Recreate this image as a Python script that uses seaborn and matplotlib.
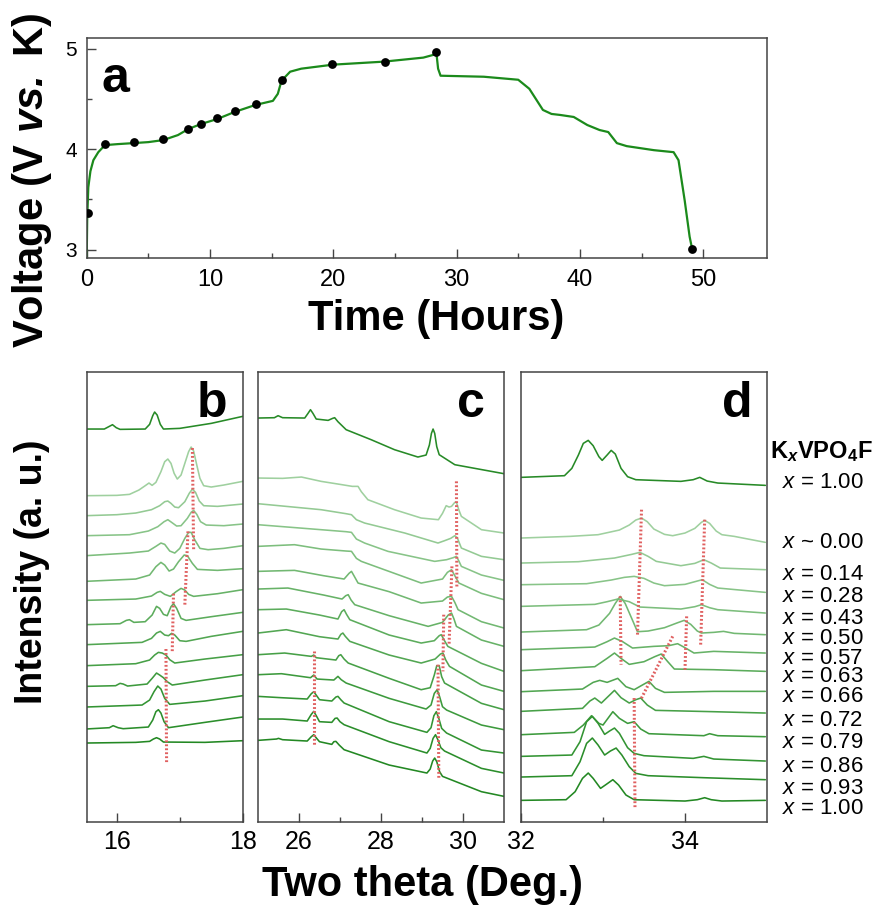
import matplotlib
matplotlib.use("Agg")
import matplotlib.pyplot as plt
import seaborn as sns
import pandas as pd

sns.set_style("ticks")
plt.rcParams["font.family"] = ["Liberation Sans", "DejaVu Sans"]
plt.rcParams["mathtext.fontset"] = "custom"
plt.rcParams["mathtext.rm"] = "Liberation Sans"
plt.rcParams["mathtext.it"] = "Liberation Sans:italic"
plt.rcParams["mathtext.bf"] = "Liberation Sans:bold"
plt.rcParams["mathtext.bfit"] = "Liberation Sans:bold:italic"
for k in ["text.color", "axes.labelcolor", "xtick.color", "ytick.color"]:
    plt.rcParams[k] = "black"

# ---------------- data: panel a (charge / discharge curve) ----------------
time_h = [0.0, 0.04, 0.08, 0.13, 0.3, 0.54, 0.94, 1.48, 2.5, 3.78, 5.0, 6.2, 7.4, 8.24, 9.27,
          10.6, 12.0, 13.7, 15.1, 15.5, 15.8, 16.5, 17.4, 19.97, 24.1, 27.3, 28.2, 28.35,
          28.5, 28.7, 32.2, 35.0, 35.9, 37.0, 37.7, 38.4, 39.5, 40.6, 41.6, 42.3, 43.0,
          43.8, 46.0, 47.6, 48.0, 48.5, 48.9, 49.1]
voltage = [2.92, 3.30, 3.45, 3.62, 3.78, 3.89, 3.97, 4.04, 4.05, 4.06, 4.07, 4.09, 4.14,
           4.20, 4.25, 4.30, 4.37, 4.44, 4.48, 4.55, 4.68, 4.77, 4.80, 4.84, 4.87, 4.91,
           4.94, 4.97, 4.80, 4.73, 4.72, 4.69, 4.60, 4.39, 4.35, 4.34, 4.32, 4.24, 4.19,
           4.17, 4.06, 4.03, 3.99, 3.97, 3.89, 3.49, 3.13, 3.01]
mark_h = [0.1, 1.5, 3.8, 6.2, 8.2, 9.3, 10.6, 12.0, 13.7, 15.8, 19.9, 24.2, 28.3, 49.1]
mark_v = [3.37, 4.05, 4.07, 4.10, 4.20, 4.25, 4.31, 4.38, 4.45, 4.69, 4.85, 4.87, 4.97, 3.01]

# ---------------- data: XRD traces (two theta, intensity a.u.) ----------------
trace_labels = ["x = 1.00", "x ~ 0.00", "x = 0.14", "x = 0.28", "x = 0.43", "x = 0.50",
                "x = 0.57", "x = 0.63", "x = 0.66", "x = 0.72", "x = 0.79", "x = 0.86",
                "x = 0.93", "x = 1.00"]

b_x = [
    [15.50, 15.80, 15.88, 15.93, 15.99, 16.05, 16.45, 16.52, 16.57, 16.60, 16.64, 16.69, 16.74, 17.0, 17.5, 18.0],
    [15.50, 16.0, 16.20, 16.35, 16.45, 16.51, 16.56, 16.62, 16.70, 16.76, 16.81, 16.86, 16.91, 16.96, 17.02, 17.08, 17.14, 17.18, 17.22, 17.27, 17.32, 17.38, 17.50, 17.7, 18.0],
    [15.50, 16.0, 16.30, 16.55, 16.68, 16.76, 16.81, 16.86, 16.92, 16.98, 17.08, 17.15, 17.20, 17.25, 17.31, 17.38, 17.6, 18.0],
    [15.50, 16.20, 16.50, 16.65, 16.75, 16.81, 16.87, 16.95, 17.02, 17.12, 17.18, 17.22, 17.27, 17.33, 17.42, 17.7, 18.0],
    [15.50, 16.20, 16.50, 16.62, 16.70, 16.76, 16.84, 16.92, 17.0, 17.08, 17.14, 17.18, 17.24, 17.32, 17.45, 17.7, 18.0],
    [15.50, 16.30, 16.52, 16.62, 16.70, 16.76, 16.83, 16.90, 16.98, 17.07, 17.12, 17.20, 17.28, 17.6, 18.0],
    [15.50, 16.30, 16.55, 16.64, 16.69, 16.76, 16.85, 16.94, 17.02, 17.08, 17.14, 17.22, 17.6, 18.0],
    [15.50, 16.05, 16.15, 16.20, 16.27, 16.45, 16.56, 16.63, 16.68, 16.74, 16.80, 16.86, 16.90, 16.95, 17.02, 17.10, 17.5, 18.0],
    [15.50, 16.40, 16.55, 16.63, 16.69, 16.76, 16.82, 16.87, 16.92, 17.0, 17.1, 17.5, 18.0],
    [15.50, 16.30, 16.52, 16.60, 16.66, 16.72, 16.78, 16.84, 16.92, 17.4, 18.0],
    [15.50, 15.98, 16.05, 16.10, 16.17, 16.48, 16.56, 16.63, 16.68, 16.74, 16.80, 16.88, 17.4, 18.0],
    [15.50, 16.40, 16.52, 16.59, 16.65, 16.70, 16.76, 16.84, 17.4, 18.0],
    [15.50, 15.88, 15.94, 16.02, 16.10, 16.50, 16.57, 16.62, 16.66, 16.70, 16.75, 16.82, 17.4, 18.0],
    [15.50, 16.30, 16.52, 16.58, 16.63, 16.68, 16.74, 17.4, 18.0],
]
b_y = [
    [1178, 1178, 1186, 1191, 1182, 1177, 1178, 1192, 1218, 1229, 1220, 1192, 1178, 1180, 1195, 1216],
    [978, 979, 982, 995, 1008, 1016, 1009, 1018, 1050, 1080, 1088, 1075, 1045, 1028, 1040, 1075, 1110, 1124, 1112, 1070, 1030, 1008, 1004, 1010, 1021],
    [918, 921, 926, 936, 948, 960, 962, 955, 944, 942, 960, 985, 998, 988, 962, 948, 946, 953],
    [858, 861, 872, 885, 900, 906, 898, 887, 888, 910, 928, 934, 922, 900, 890, 888, 893],
    [798, 806, 812, 826, 836, 832, 812, 806, 820, 850, 868, 868, 845, 820, 816, 820, 828],
    [721, 728, 740, 765, 778, 770, 752, 758, 780, 800, 798, 775, 757, 754, 759],
    [664, 668, 677, 688, 691, 682, 676, 690, 700, 695, 682, 676, 684, 696],
    [591, 594, 604, 606, 598, 600, 620, 646, 640, 622, 618, 645, 654, 640, 610, 604, 615, 628],
    [531, 538, 550, 566, 571, 560, 558, 565, 560, 543, 541, 556, 571],
    [468, 474, 485, 500, 508, 506, 500, 486, 476, 488, 501],
    [406, 408, 415, 413, 407, 413, 430, 446, 440, 432, 420, 410, 425, 441],
    [344, 350, 365, 390, 407, 398, 370, 352, 362, 378],
    [278, 282, 288, 282, 279, 284, 305, 330, 336, 326, 300, 282, 298, 314],
    [236, 238, 241, 248, 252, 248, 239, 238, 243],
]

c_x = [
    [25.0, 25.40, 25.49, 25.60, 26.14, 26.22, 26.28, 26.34, 26.42, 26.71, 26.82, 26.87, 26.95, 27.15, 27.76, 28.33, 28.90, 29.10, 29.18, 29.23, 29.27, 29.31, 29.36, 29.42, 29.80, 31.0],
    [25.0, 25.6, 26.06, 26.54, 27.0, 27.30, 27.44, 27.52, 27.68, 28.33, 28.98, 29.40, 29.50, 29.59, 29.66, 29.72, 29.80, 29.84, 29.90, 29.96, 30.45, 31.0],
    [25.0, 26.54, 27.15, 27.28, 27.40, 27.60, 28.58, 29.39, 29.55, 29.70, 29.80, 29.86, 29.96, 30.45, 31.0],
    [25.0, 26.54, 27.15, 27.28, 27.40, 27.60, 28.17, 29.31, 29.6, 29.76, 29.84, 29.90, 29.96, 30.45, 31.0],
    [25.0, 25.89, 26.54, 27.15, 27.28, 27.40, 27.52, 28.98, 29.50, 29.62, 29.72, 29.80, 29.90, 30.45, 31.0],
    [25.0, 25.89, 26.6, 27.1, 27.22, 27.28, 27.34, 27.44, 28.2, 28.98, 29.50, 29.62, 29.72, 29.80, 29.88, 30.45, 31.0],
    [25.0, 25.73, 26.6, 27.05, 27.14, 27.20, 27.27, 27.36, 28.2, 29.15, 29.50, 29.64, 29.72, 29.78, 29.84, 30.45, 31.0],
    [25.0, 25.69, 26.5, 26.95, 27.04, 27.10, 27.16, 27.24, 28.2, 28.98, 29.30, 29.42, 29.47, 29.54, 29.63, 30.45, 31.0],
    [25.0, 25.69, 26.5, 26.95, 27.02, 27.07, 27.13, 27.24, 28.2, 28.98, 29.32, 29.45, 29.51, 29.58, 29.67, 30.45, 31.0],
    [25.0, 25.65, 26.30, 26.36, 26.42, 26.9, 26.97, 27.02, 27.10, 27.20, 28.2, 28.98, 29.20, 29.30, 29.36, 29.42, 29.48, 29.55, 30.45, 31.0],
    [25.0, 25.57, 26.28, 26.36, 26.44, 26.85, 26.95, 27.03, 27.15, 28.2, 29.10, 29.22, 29.30, 29.37, 29.43, 29.50, 29.60, 30.45, 31.0],
    [25.0, 25.57, 26.2, 26.30, 26.36, 26.43, 26.5, 26.8, 26.90, 26.95, 27.02, 27.1, 28.2, 29.12, 29.22, 29.29, 29.35, 29.41, 29.48, 29.6, 30.45, 31.0],
    [25.0, 25.6, 26.2, 26.30, 26.36, 26.43, 26.5, 26.8, 26.88, 26.93, 27.0, 27.1, 28.2, 29.12, 29.20, 29.27, 29.33, 29.39, 29.46, 29.55, 30.45, 31.0],
    [25.0, 25.45, 25.5, 25.6, 26.2, 26.30, 26.36, 26.43, 26.5, 26.8, 26.85, 26.9, 26.98, 27.1, 28.2, 29.12, 29.20, 29.26, 29.31, 29.36, 29.43, 29.5, 30.45, 31.0],
]
c_y = [
    [1211, 1212, 1218, 1212, 1211, 1225, 1236, 1225, 1208, 1204, 1210, 1212, 1200, 1176, 1146, 1116, 1094, 1100, 1130, 1165, 1178, 1165, 1125, 1101, 1071, 1044],
    [1031, 1030, 1034, 1021, 1012, 1006, 1006, 990, 966, 936, 911, 906, 925, 948, 944, 946, 958, 958, 935, 916, 876, 866],
    [954, 936, 924, 921, 906, 896, 866, 836, 843, 850, 858, 852, 821, 796, 786],
    [891, 876, 870, 868, 848, 836, 811, 781, 786, 792, 796, 782, 766, 740, 724],
    [826, 831, 818, 812, 811, 790, 781, 716, 728, 748, 756, 738, 716, 685, 666],
    [751, 754, 738, 728, 745, 751, 738, 716, 690, 656, 662, 674, 676, 658, 636, 600, 581],
    [698, 701, 680, 668, 678, 681, 665, 651, 618, 586, 598, 620, 626, 608, 586, 545, 526],
    [636, 638, 620, 608, 630, 636, 622, 606, 560, 536, 543, 558, 561, 545, 526, 475, 451],
    [566, 576, 555, 548, 562, 566, 556, 541, 500, 476, 488, 503, 506, 485, 466, 410, 391],
    [501, 506, 496, 500, 492, 485, 498, 501, 488, 476, 430, 396, 402, 440, 468, 468, 435, 416, 355, 336],
    [441, 444, 432, 440, 428, 425, 436, 426, 416, 370, 338, 350, 385, 396, 375, 345, 335, 290, 276],
    [376, 372, 368, 384, 390, 378, 366, 362, 374, 376, 366, 356, 300, 268, 282, 318, 330, 310, 280, 266, 215, 206],
    [308, 308, 302, 322, 331, 316, 300, 298, 310, 311, 300, 291, 240, 206, 220, 250, 261, 245, 222, 212, 160, 146],
    [244, 248, 250, 246, 242, 255, 261, 250, 240, 232, 240, 241, 230, 216, 170, 146, 158, 182, 191, 180, 150, 136, 90, 76],
]

d_x = [
    [32.0, 32.53, 32.62, 32.70, 32.76, 32.82, 32.88, 32.95, 32.99, 33.05, 33.10, 33.15, 33.22, 33.30, 33.40, 33.95, 34.10, 34.18, 34.27, 34.40, 34.98],
    [32.0, 32.6, 32.94, 33.20, 33.32, 33.40, 33.47, 33.54, 33.62, 33.75, 33.85, 34.0, 34.12, 34.20, 34.24, 34.30, 34.38, 34.45, 34.60, 34.98],
    [32.0, 32.7, 33.14, 33.35, 33.45, 33.55, 33.65, 33.95, 34.12, 34.23, 34.32, 34.43, 34.98],
    [32.0, 32.8, 33.1, 33.26, 33.38, 33.50, 33.62, 33.75, 34.0, 34.21, 34.30, 34.40, 34.98],
    [32.0, 32.9, 33.05, 33.18, 33.32, 33.45, 33.95, 34.12, 34.20, 34.30, 34.40, 34.98],
    [32.0, 32.8, 32.95, 33.08, 33.15, 33.21, 33.27, 33.35, 33.42, 33.55, 33.75, 33.90, 33.99, 34.07, 34.15, 34.20, 34.35, 34.47, 34.60, 34.98],
    [32.0, 32.9, 33.05, 33.14, 33.24, 33.36, 33.62, 33.80, 33.91, 34.0, 34.11, 34.35, 34.98],
    [32.0, 32.9, 33.05, 33.14, 33.22, 33.32, 33.50, 33.63, 33.71, 33.79, 33.87, 34.35, 34.98],
    [32.0, 32.75, 32.88, 32.96, 33.05, 33.18, 33.28, 33.38, 33.48, 33.56, 33.64, 33.75, 34.35, 34.98],
    [32.0, 32.75, 32.84, 32.90, 32.98, 33.06, 33.14, 33.22, 33.32, 33.40, 33.46, 33.54, 33.64, 34.35, 34.98],
    [32.0, 32.65, 32.76, 32.86, 32.95, 33.0, 33.06, 33.12, 33.20, 33.30, 33.38, 33.46, 33.56, 34.23, 34.30, 34.40, 34.98],
    [32.0, 32.62, 32.72, 32.80, 32.87, 32.94, 33.02, 33.08, 33.14, 33.20, 33.30, 33.38, 33.50, 34.10, 34.23, 34.35, 34.98],
    [32.0, 32.62, 32.72, 32.80, 32.87, 32.94, 33.02, 33.09, 33.16, 33.23, 33.32, 33.40, 33.55, 34.23, 34.98],
    [32.0, 32.55, 32.66, 32.75, 32.82, 32.88, 32.97, 33.04, 33.12, 33.19, 33.28, 33.38, 34.0, 34.15, 34.24, 34.32, 34.45, 34.98],
]
d_y = [
    [1033, 1038, 1060, 1100, 1135, 1144, 1128, 1095, 1084, 1100, 1114, 1103, 1060, 1035, 1026, 1021, 1026, 1033, 1022, 1016, 1009],
    [851, 856, 861, 875, 890, 905, 911, 900, 878, 862, 858, 866, 880, 898, 904, 895, 872, 861, 856, 838],
    [776, 780, 791, 802, 808, 796, 781, 768, 775, 786, 776, 761, 756],
    [711, 714, 725, 733, 736, 730, 716, 708, 712, 726, 712, 701, 688],
    [646, 652, 660, 668, 660, 644, 638, 645, 651, 642, 636, 626],
    [569, 576, 590, 625, 655, 676, 655, 610, 570, 572, 582, 596, 604, 592, 572, 566, 568, 571, 565, 561],
    [516, 524, 540, 551, 540, 521, 526, 528, 534, 522, 506, 511, 506],
    [453, 465, 490, 506, 490, 472, 480, 495, 503, 480, 458, 456, 451],
    [390, 398, 418, 424, 418, 430, 405, 396, 410, 421, 400, 388, 391, 391],
    [331, 340, 362, 371, 356, 375, 394, 372, 356, 366, 371, 350, 334, 330, 326],
    [261, 268, 290, 318, 295, 290, 310, 330, 310, 295, 300, 278, 264, 258, 264, 258, 255],
    [196, 200, 240, 300, 316, 295, 262, 272, 281, 265, 222, 205, 198, 190, 196, 188, 182],
    [134, 138, 180, 235, 251, 230, 200, 212, 221, 200, 165, 145, 138, 132, 126],
    [64, 66, 90, 130, 146, 130, 100, 112, 126, 110, 80, 66, 62, 66, 72, 66, 62, 64],
]

# red dotted guide lines (two theta start/end, intensity start/end)
b_guides = [([17.20, 17.22], [1121, 816]), ([17.13, 17.08], [871, 651]),
            ([16.90, 16.88], [684, 511]), ([16.78, 16.79], [518, 176])]
c_guides = [([29.84, 29.85], [1021, 701]), ([29.73, 29.66], [766, 531]),
            ([29.53, 29.51], [621, 451]), ([29.39, 29.41], [471, 131]),
            ([26.36, 26.36], [511, 226])]
d_guides = [([33.47, 33.42], [936, 556]), ([34.24, 34.19], [906, 526]),
            ([33.21, 33.22], [676, 471]), ([34.02, 34.00], [616, 456]),
            ([33.85, 33.46], [556, 366]), ([33.38, 33.39], [371, 38])]

# ---------------- styles / layout ----------------
trace_colors = ["#278a27", "#9fd09f", "#94ca94", "#88c488", "#7dbe7d", "#72b872", "#67b267",
                "#5cac5c", "#52a652", "#47a047", "#3d9a3d", "#339433", "#2b8e2b", "#238823"]
line_green = "#1b8a1b"
guide_red = "#e06060"
spine_col = "#444444"

W, H = 873, 915
fig = plt.figure(figsize=(W / 100, H / 100), dpi=100)


def box(l, t, r, b):
    return [l / W, 1 - b / H, (r - l) / W, (b - t) / H]


ax_a = fig.add_axes(box(86.7, 38.0, 767.3, 258.3))
ax_b = fig.add_axes(box(86.7, 371.7, 242.7, 821.7))
ax_c = fig.add_axes(box(258.0, 371.7, 504.0, 821.7))
ax_d = fig.add_axes(box(521.0, 371.7, 767.0, 821.7))

for ax in (ax_a, ax_b, ax_c, ax_d):
    for s in ax.spines.values():
        s.set_linewidth(1.1)
        s.set_color(spine_col)
    ax.tick_params(which="both", direction="in", color=spine_col, width=1.0,
                   top=False, right=False, labelcolor="black")
    ax.tick_params(which="major", length=6.5)
    ax.tick_params(which="minor", length=3.5)

# ---- panel a ----
df_v = pd.DataFrame({"t": time_h, "v": voltage})
sns.lineplot(data=df_v, x="t", y="v", ax=ax_a, color=line_green, lw=1.6,
             estimator=None, sort=False)
df_m = pd.DataFrame({"t": mark_h, "v": mark_v})
sns.scatterplot(data=df_m, x="t", y="v", ax=ax_a, color="black", s=40,
                edgecolor="black", linewidth=0, zorder=5)
ax_a.set_xlim(0, 55.2)
ax_a.set_ylim(2.915, 5.105)
ax_a.set_xticks([0, 10, 20, 30, 40, 50])
ax_a.set_xticks([5, 15, 25, 35, 45], minor=True)
ax_a.set_yticks([3, 4, 5])
ax_a.set_yticks([3.5, 4.5], minor=True)
ax_a.tick_params(axis="x", labelsize=17, pad=8)
ax_a.tick_params(axis="y", labelsize=15, pad=7)
ax_a.set_xlabel("")
ax_a.set_ylabel("")
ax_a.text(0.042, 0.755, "a", transform=ax_a.transAxes, ha="center", va="baseline",
          fontsize=36, fontweight="bold", color="black")

# ---- panels b, c, d ----
panel_specs = [
    (ax_b, b_x, b_y, b_guides, (15.52, 18.0), [16, 18], [17], "b", 0.80),
    (ax_c, c_x, c_y, c_guides, (25.0, 31.0), [26, 28, 30], [27, 29], "c", 0.866),
    (ax_d, d_x, d_y, d_guides, (32.0, 35.0), [32, 34], [33], "d", 0.878),
]
for ax, xs, ys, guides, xlim, majors, minors, letter, lx in panel_specs:
    for i, (xv, yv) in enumerate(zip(xs, ys)):
        df = pd.DataFrame({"two_theta": xv, "intensity": yv})
        sns.lineplot(data=df, x="two_theta", y="intensity", ax=ax,
                     color=trace_colors[i], lw=1.15, estimator=None, sort=False)
    for gx, gy in guides:
        ax.plot(gx, gy, color=guide_red, lw=2.2, ls=(0, (0.6, 0.7)),
                solid_capstyle="butt", zorder=6)
    ax.set_xlim(*xlim)
    ax.set_ylim(0, 1350)
    ax.set_xticks(majors)
    ax.set_xticks(minors, minor=True)
    ax.set_yticks([])
    ax.set_xlabel("")
    ax.set_ylabel("")
    ax.tick_params(axis="x", labelsize=18, pad=6)
    ax.text(lx, 0.899, letter, transform=ax.transAxes, ha="center", va="baseline",
            fontsize=36, fontweight="bold", color="black")

# ---- labels ----
fig.text(32 / W, 1 - 180 / H, r"Voltage (V $\mathbfit{vs.}$ K)", rotation=90,
         ha="center", va="center", fontsize=30, fontweight="bold", color="black")
fig.text(436 / W, 1 - 319 / H, "Time (Hours)", ha="center", va="center",
         fontsize=30, fontweight="bold", color="black")
fig.text(32 / W, 1 - 572 / H, "Intensity (a. u.)", rotation=90, ha="center",
         va="center", fontsize=27, fontweight="bold", color="black")
fig.text(423 / W, 1 - 885 / H, "Two theta (Deg.)", ha="center", va="center",
         fontsize=30, fontweight="bold", color="black")

fig.text(770 / W, 1 - 458 / H, r"$\mathbf{K}_{\mathbfit{x}}\mathbf{VPO}_{\mathbf{4}}\mathbf{F}$",
         ha="left", va="baseline", fontsize=17, color="black")
label_y_px = [483, 542, 574, 596, 618, 638, 658, 677, 697, 720, 742, 766, 788, 809]
for lab, ypx in zip(trace_labels, label_y_px):
    txt = r"$x$" + lab[1:]
    fig.text(782 / W, 1 - ypx / H, txt, ha="left", va="center", fontsize=16,
             color="black")

fig.savefig("out.png", dpi=100)
